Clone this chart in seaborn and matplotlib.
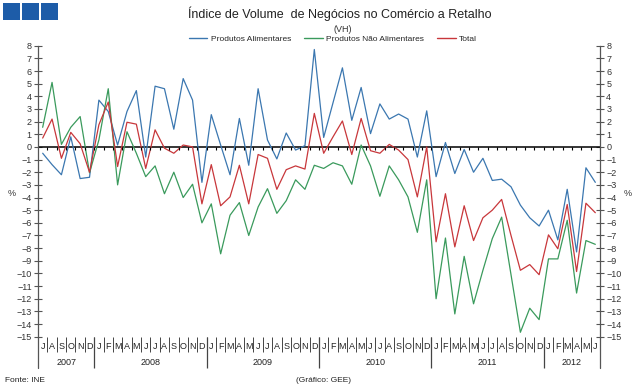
import numpy as np
import pandas as pd
import matplotlib
matplotlib.use("Agg")
import matplotlib.pyplot as plt
from matplotlib.patches import Rectangle
import seaborn as sns

# monthly y-o-y change (%), Jul 2007 .. Jun 2012
alimentares = [-0.5, -1.4, -2.2, 0.8, -2.5, -2.4,
               3.7, 2.8, 0.15, 2.8, 4.45, -0.8, 4.8, 4.6, 1.4, 5.4, 3.7, -2.8,
               2.55, 0.15, -2.2, 2.25, -1.45, 4.6, 0.55, -0.95, 1.1, -0.25, 0.1, 7.7,
               0.75, 3.5, 6.25, 2.1, 4.7, 1.05, 3.4, 2.2, 2.6, 2.2, -0.8, 2.85,
               -2.35, 0.35, -2.1, -0.2, -2.0, -0.9, -2.65, -2.55, -3.15, -4.6, -5.6, -6.25,
               -5.0, -7.35, -3.35, -8.3, -1.65, -2.8]
nao_alimentares = [1.55, 5.1, 0.2, 1.55, 2.4, -2.05,
                   0.55, 4.6, -3.0, 1.2, -0.5, -2.35, -1.5, -3.7, -2.0, -4.0, -2.95, -6.0,
                   -4.5, -8.45, -5.4, -4.4, -7.0, -4.75, -3.3, -5.25, -4.25, -2.6, -3.35, -1.45,
                   -1.7, -1.25, -1.5, -2.95, 0.15, -1.5, -3.9, -1.5, -2.6, -3.95, -6.75, -2.6,
                   -12.0, -7.2, -13.2, -8.65, -12.4, -9.75, -7.25, -5.55, -10.1, -14.65, -12.75, -13.65,
                   -8.85, -8.85, -5.8, -11.55, -7.4, -7.7]
total = [0.7, 2.2, -0.9, 1.15, 0.25, -2.0,
         1.75, 3.55, -1.55, 1.95, 1.8, -1.7, 1.35, -0.1, -0.5, 0.15, 0.0, -4.5,
         -1.4, -4.65, -3.95, -1.45, -4.5, -0.6, -0.9, -3.35, -1.8, -1.5, -1.75, 2.65,
         -0.5, 0.8, 2.05, -0.6, 2.25, -0.3, -0.5, 0.2, -0.25, -1.0, -3.95, 0.0,
         -7.5, -3.7, -7.9, -4.65, -7.4, -5.6, -5.0, -4.15, -7.0, -9.75, -9.3, -10.1,
         -6.95, -8.05, -4.55, -9.85, -4.45, -5.2]

months = list("JASOND") + list("JFMAMJJASOND") * 4 + list("JFMAMJ")
years = ["2007", "2008", "2009", "2010", "2011", "2012"]
year_sizes = [6, 12, 12, 12, 12, 6]

series = ["Produtos Alimentares", "Produtos Não Alimentares", "Total"]
colors = {"Produtos Alimentares": "#3b77b0",
          "Produtos Não Alimentares": "#3a9a5c",
          "Total": "#c8373b"}

n = len(months)
df = pd.DataFrame({"idx": np.tile(np.arange(n), 3),
                   "valor": alimentares + nao_alimentares + total,
                   "serie": np.repeat(series, n)})

sns.set_style("white")
plt.rcParams['font.family'] = ['Liberation Sans', 'DejaVu Sans']

fig = plt.figure(figsize=(6.43, 3.92), dpi=100)
ax = fig.add_axes([38 / 643, 1 - 336.7 / 392, 562 / 643, 291 / 392])

sns.lineplot(data=df, x="idx", y="valor", hue="serie", hue_order=series,
             palette=colors, linewidth=0.9, ax=ax, legend=False)

ax.set_xlim(-0.5, n - 0.5)
ax.set_ylim(-15, 8)
ax.set_yticks(range(-15, 9))
ax.set_xticks([])
ax.set_xlabel("")
ax.set_ylabel("")
ax.axhline(0, color="black", lw=1.1, zorder=1)
ax.vlines(np.arange(n) + 0.5, -0.25, 0, color="black", lw=0.8)

for s in ["top", "bottom"]:
    ax.spines[s].set_visible(False)
for s in ["left", "right"]:
    ax.spines[s].set_color("#555555")
    ax.spines[s].set_linewidth(0.9)
ax.tick_params(axis="y", direction="inout", length=6, width=0.8, color="#555555",
               left=True, right=True, labelleft=True, labelright=True,
               labelsize=6.5, labelcolor="#333333", pad=1.5)

# extend side axes down through the date rows
xt = ax.get_xaxis_transform()
ax.plot([0, 0], [0, -0.108], transform=ax.transAxes, clip_on=False, color="#555555", lw=0.9)
ax.plot([1, 1], [0, -0.108], transform=ax.transAxes, clip_on=False, color="#555555", lw=0.9)

# month labels + separators
for i, m in enumerate(months):
    ax.text(i, -0.032, m, transform=xt, ha="center", va="center", fontsize=6.5, color="#222222")
ax.vlines(np.arange(1, n) - 0.5, -0.052, 0, transform=xt, clip_on=False, color="#444444", lw=0.7)

# year labels + separators
start = 0
for y, sz in zip(years, year_sizes):
    ax.text(start + (sz - 1) / 2, -0.09, y, transform=xt, ha="center", va="center",
            fontsize=6.5, color="#222222")
    start += sz
    if start < n:
        ax.vlines(start - 0.5, -0.108, 0, transform=xt, clip_on=False, color="#444444", lw=0.9)

fig.text(12 / 643, 1 - 193 / 392, "%", fontsize=6.5, ha="center", va="center", color="#333333")
fig.text(628 / 643, 1 - 193 / 392, "%", fontsize=6.5, ha="center", va="center", color="#333333")

fig.text(340 / 643, 1 - 14 / 392, "Índice de Volume  de Negócios no Comércio a Retalho",
         fontsize=9, ha="center", va="center", color="#222222")
fig.text(343 / 643, 1 - 29 / 392, "(VH)", fontsize=6.5, ha="center", va="center", color="#333333")

handles = [plt.Line2D([], [], color=colors[s], lw=1) for s in series]
fig.legend(handles, series, loc="center", bbox_to_anchor=(333 / 643, 1 - 39 / 392), ncol=3,
           frameon=False, fontsize=6, handlelength=2.2, columnspacing=1.6, handletextpad=0.4)

# logo squares
for x0 in [3, 22, 41]:
    fig.add_artist(Rectangle((x0 / 643, 1 - 19.5 / 392), 17 / 643, 16.5 / 392,
                             transform=fig.transFigure, facecolor="#1d5ca8", linewidth=0))

fig.text(5 / 643, 1 - 381 / 392, "Fonte: INE", fontsize=6, va="center", color="#222222")
fig.text(323 / 643, 1 - 381 / 392, "(Gráfico: GEE)", fontsize=6, ha="center", va="center", color="#222222")

fig.savefig("out.png", dpi=100)
